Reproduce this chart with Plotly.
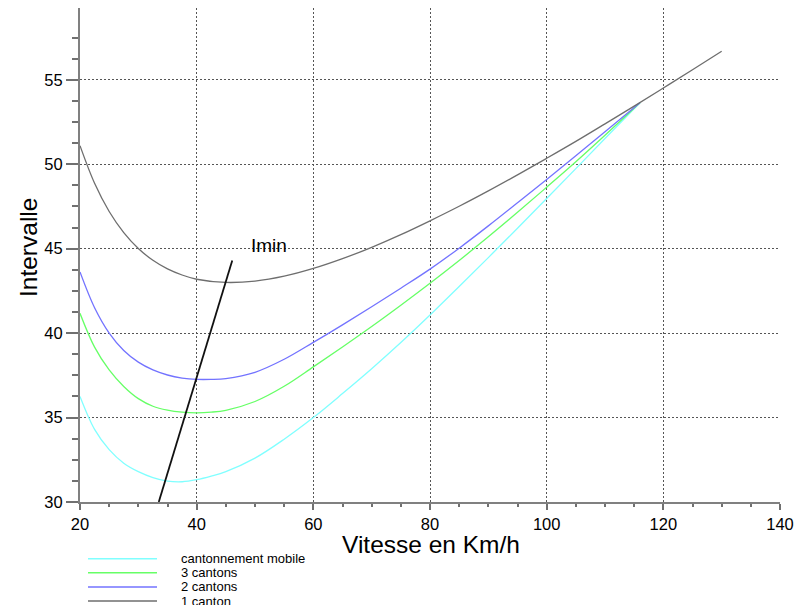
import plotly.graph_objects as go

# ---- data ----
vitesse = [20, 22.5, 25, 27.5, 30, 32.5, 35, 37.5, 40, 42.5, 45, 50, 55, 60, 65, 70, 75, 80,
           85, 90, 95, 100, 105, 110, 116]
cant_mobile = [36.25, 34.30, 33.10, 32.30, 31.80, 31.45, 31.24, 31.20, 31.32, 31.53, 31.80, 32.60,
               33.72, 35.00, 36.42, 37.89, 39.44, 41.07, 42.76, 44.47, 46.21, 47.97, 49.74, 51.52, 53.64]
cantons_3 = [41.17, 39.17, 37.82, 36.84, 36.12, 35.67, 35.44, 35.32, 35.28, 35.32, 35.43, 35.95,
             36.85, 38.00, 39.18, 40.39, 41.65, 42.95, 44.30, 45.70, 47.15, 48.64, 50.15, 51.72, 53.64]
cantons_2 = [43.62, 41.50, 40.00, 38.97, 38.28, 37.82, 37.52, 37.34, 37.26, 37.26, 37.31, 37.68,
             38.45, 39.45, 40.49, 41.56, 42.66, 43.79, 45.03, 46.35, 47.72, 49.10, 50.50, 51.92, 53.64]

vitesse_1 = [20, 22.5, 25, 27.5, 30, 32.5, 35, 37.5, 40, 45, 50, 55, 60, 65, 70, 75, 80, 85, 90,
             95, 100, 105, 110, 115, 120, 125, 130]
canton_1 = [51.10, 48.87, 47.20, 45.95, 45.01, 44.31, 43.80, 43.44, 43.19, 43.00, 43.08, 43.37,
            43.83, 44.41, 45.08, 45.83, 46.65, 47.51, 48.42, 49.37, 50.35, 51.35, 52.39, 53.44,
            54.51, 55.59, 56.69]

imin_x = [33.5, 46.1]
imin_y = [30.0, 44.3]

series_names = ["cantonnement mobile", "3 cantons", "2 cantons", "1 canton"]
series_colors = ["#80ffff", "#66ff66", "#7373ff", "#6e6e6e"]

x_ticks = [20, 40, 60, 80, 100, 120, 140]
y_ticks = [30, 35, 40, 45, 50, 55]

FONT = "Liberation Sans, Arial, sans-serif"

fig = go.Figure()
xs = [vitesse, vitesse, vitesse, vitesse_1]
ys = [cant_mobile, cantons_3, cantons_2, canton_1]
for name, col, x, y in zip(series_names, series_colors, xs, ys):
    fig.add_trace(go.Scatter(x=x, y=y, mode="lines", name=name,
                             line=dict(color=col, width=1.3, shape="spline", smoothing=1.0),
                             showlegend=False))

fig.add_trace(go.Scatter(x=imin_x, y=imin_y, mode="lines", name="Imin",
                         line=dict(color="#111111", width=1.8), showlegend=False))

# page body has an 8px margin: the figure is drawn 8px right/down of the window corner
OFF = 8
FW, FH = 805 - OFF, 605 - OFF
# plot area in window pixels
L, R, T, B = 80, 780, 8.3, 501.7
W, H = R - L, B - T


def py2paper(py):
    return (B - py) / H


def px2paper(px):
    return (px - L) / W


shapes = []
annotations = []
leg_y = [558.3, 572.4, 586.5, 600.6]
for name, col, yy in zip(series_names, series_colors, leg_y):
    shapes.append(dict(type="line", xref="paper", yref="paper",
                       x0=px2paper(88), x1=px2paper(157),
                       y0=py2paper(yy), y1=py2paper(yy),
                       line=dict(color=col, width=1.5)))
    annotations.append(dict(text=name, xref="paper", yref="paper",
                            x=px2paper(179), y=py2paper(yy), xanchor="left", yanchor="middle",
                            showarrow=False, font=dict(family=FONT, size=13, color="#000000")))

annotations.append(dict(text="Vitesse en Km/h", xref="paper", yref="paper",
                        x=px2paper(431), y=py2paper(544), xanchor="center", yanchor="middle",
                        showarrow=False, font=dict(family=FONT, size=24.5, color="#000000")))
annotations.append(dict(text="Intervalle", xref="paper", yref="paper",
                        x=px2paper(29), y=py2paper(248), xanchor="center", yanchor="middle",
                        textangle=-90, showarrow=False,
                        font=dict(family=FONT, size=24.5, color="#000000")))
annotations.append(dict(text="Imin", xref="x", yref="y", x=48.9, y=45.2,
                        xanchor="left", yanchor="middle", showarrow=False,
                        font=dict(family=FONT, size=19, color="#000000")))

fig.update_layout(
    width=FW, height=FH,
    margin=dict(l=L - OFF, r=805 - R, t=T - OFF, b=605 - B),
    paper_bgcolor="white", plot_bgcolor="white",
    showlegend=False,
    shapes=shapes, annotations=annotations,
    font=dict(family=FONT, size=16, color="#000000"),
)

fig.update_xaxes(range=[20, 140], tickvals=x_ticks,
                 showline=True, linecolor="#808080", linewidth=2,
                 ticks="outside", ticklen=6, tickwidth=1.5, tickcolor="#707070",
                 minor=dict(tickvals=[25, 30, 35, 45, 50, 55, 65, 70, 75, 85, 90, 95, 105, 110, 115,
                                      125, 130, 135],
                            ticks="outside", ticklen=3, tickwidth=1.5, tickcolor="#707070",
                            showgrid=False),
                 showgrid=True, gridcolor="#555555", gridwidth=1, griddash="2px,2px",
                 zeroline=False, tickfont=dict(size=16.5), fixedrange=True)
fig.update_yaxes(range=[30, 59.25], tickvals=y_ticks,
                 showline=True, linecolor="#808080", linewidth=2,
                 ticks="outside", ticklen=12, tickwidth=1.5, tickcolor="#707070",
                 minor=dict(tickvals=[31.25, 32.5, 33.75, 36.25, 37.5, 38.75, 41.25, 42.5, 43.75,
                                      46.25, 47.5, 48.75, 51.25, 52.5, 53.75, 56.25, 57.5],
                            ticks="outside", ticklen=6, tickwidth=1.5, tickcolor="#707070",
                            showgrid=False),
                 showgrid=True, gridcolor="#555555", gridwidth=1, griddash="2px,2px",
                 zeroline=False, tickfont=dict(size=16.5), fixedrange=True)

fig.write_html("out.html")
